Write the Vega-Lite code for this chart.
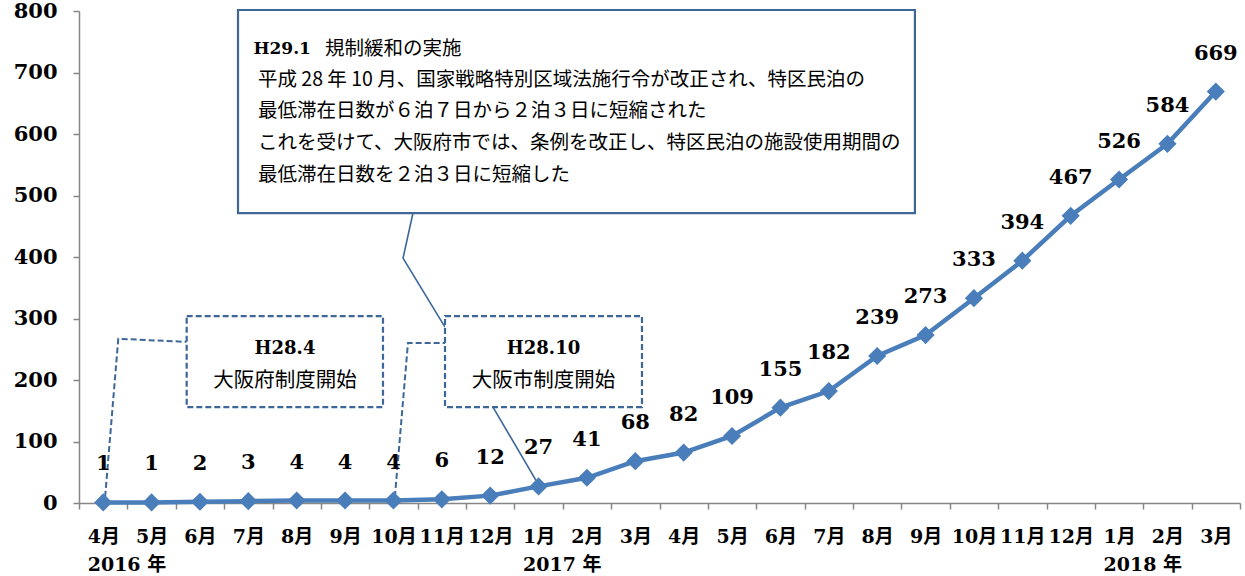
{
  "$schema": "https://vega.github.io/schema/vega-lite/v6.json",
  "autosize": {"type": "none"},
  "padding": {"left": 79, "top": 11, "right": 5, "bottom": 73},
  "width": 1161,
  "height": 492,
  "background": "white",
  "config": {"view": {"stroke": null}},
  "datasets": {
    "main": [
      {"ym": "2016-04", "count": 1}, {"ym": "2016-05", "count": 1}, {"ym": "2016-06", "count": 2},
      {"ym": "2016-07", "count": 3}, {"ym": "2016-08", "count": 4}, {"ym": "2016-09", "count": 4},
      {"ym": "2016-10", "count": 4}, {"ym": "2016-11", "count": 6}, {"ym": "2016-12", "count": 12},
      {"ym": "2017-01", "count": 27}, {"ym": "2017-02", "count": 41}, {"ym": "2017-03", "count": 68},
      {"ym": "2017-04", "count": 82}, {"ym": "2017-05", "count": 109}, {"ym": "2017-06", "count": 155},
      {"ym": "2017-07", "count": 182}, {"ym": "2017-08", "count": 239}, {"ym": "2017-09", "count": 273},
      {"ym": "2017-10", "count": 333}, {"ym": "2017-11", "count": 394}, {"ym": "2017-12", "count": 467},
      {"ym": "2018-01", "count": 526}, {"ym": "2018-02", "count": 584}, {"ym": "2018-03", "count": 669}
    ],
    "boxes": [
      {"name": "big", "style": "solid", "x1": 2.787, "x2": 16.78, "y1": 801.6, "y2": 471.5},
      {"name": "h284", "style": "dashed", "x1": 1.726, "x2": 5.784, "y1": 304, "y2": 156},
      {"name": "h2810", "style": "dashed", "x1": 7.066, "x2": 11.138, "y1": 304, "y2": 156}
    ],
    "leaders": [
      {"id": "L1", "style": "dashed", "ord": 1, "xi": 0.04, "yv": 10},
      {"id": "L1", "style": "dashed", "ord": 2, "xi": 0.312, "yv": 267},
      {"id": "L1", "style": "dashed", "ord": 3, "xi": 1.726, "yv": 262},
      {"id": "L2", "style": "dashed", "ord": 1, "xi": 6.03, "yv": 10},
      {"id": "L2", "style": "dashed", "ord": 2, "xi": 6.3, "yv": 260},
      {"id": "L2", "style": "dashed", "ord": 3, "xi": 7.066, "yv": 260},
      {"id": "S1", "style": "solid", "ord": 1, "xi": 6.404, "yv": 471.5},
      {"id": "S1", "style": "solid", "ord": 2, "xi": 6.198, "yv": 398},
      {"id": "S1", "style": "solid", "ord": 3, "xi": 7.066, "yv": 286},
      {"id": "S2", "style": "solid", "ord": 1, "xi": 8.058, "yv": 156},
      {"id": "S2", "style": "solid", "ord": 2, "xi": 8.968, "yv": 34}
    ],
    "texts": [
      {"kind": "bold", "t": "H29.1", "xi": 3.7, "yv": 738},
      {"kind": "bold", "t": "H28.4", "xi": 3.758, "yv": 251},
      {"kind": "bold", "t": "H28.10", "xi": 9.102, "yv": 251},
      {"kind": "jpleft", "t": "規制緩和の実施", "xi": 4.585, "yv": 738},
      {"kind": "jpleft", "t": "平成 28 年 10 月、国家戦略特別区域法施行令が改正され、特区民泊の", "xi": 3.2, "yv": 688},
      {"kind": "jpleft", "t": "最低滞在日数が６泊７日から２泊３日に短縮された", "xi": 3.2, "yv": 637},
      {"kind": "jpleft", "t": "これを受けて、大阪府市では、条例を改正し、特区民泊の施設使用期間の", "xi": 3.2, "yv": 585},
      {"kind": "jpleft", "t": "最低滞在日数を２泊３日に短縮した", "xi": 3.2, "yv": 533},
      {"kind": "jpcenter", "t": "大阪府制度開始", "xi": 3.758, "yv": 199},
      {"kind": "jpcenter", "t": "大阪市制度開始", "xi": 9.102, "yv": 199}
    ]
  },
  "resolve": {"scale": {"x": "independent"}},
  "layer": [
    {
      "data": {"name": "leaders"},
      "transform": [{"filter": "datum.style == 'dashed'"}],
      "mark": {"type": "line", "color": "#3d6799", "strokeWidth": 2, "strokeDash": [6, 3]},
      "encoding": {
        "x": {"field": "xi", "type": "quantitative", "scale": {"domain": [-0.5, 23.5], "nice": false, "zero": false}, "axis": null},
        "y": {"field": "yv", "type": "quantitative", "scale": {"domain": [0, 800], "nice": false}},
        "detail": {"field": "id"},
        "order": {"field": "ord"}
      }
    },
    {
      "data": {"name": "leaders"},
      "transform": [{"filter": "datum.style == 'solid'"}],
      "mark": {"type": "line", "color": "#3d6799", "strokeWidth": 1.6},
      "encoding": {
        "x": {"field": "xi", "type": "quantitative", "scale": {"domain": [-0.5, 23.5], "nice": false, "zero": false}, "axis": null},
        "y": {"field": "yv", "type": "quantitative", "scale": {"domain": [0, 800], "nice": false}},
        "detail": {"field": "id"},
        "order": {"field": "ord"}
      }
    },
    {
      "data": {"name": "boxes"},
      "transform": [{"filter": "datum.style == 'solid'"}],
      "mark": {"type": "rect", "fill": "white", "stroke": "#3d6799", "strokeWidth": 2.2},
      "encoding": {
        "x": {"field": "x1", "type": "quantitative", "scale": {"domain": [-0.5, 23.5], "nice": false, "zero": false}, "axis": null},
        "x2": {"field": "x2"},
        "y": {"field": "y1", "type": "quantitative", "scale": {"domain": [0, 800], "nice": false}},
        "y2": {"field": "y2"}
      }
    },
    {
      "data": {"name": "boxes"},
      "transform": [{"filter": "datum.style == 'dashed'"}],
      "mark": {"type": "rect", "fill": "white", "stroke": "#3d6799", "strokeWidth": 2.2, "strokeDash": [6, 3]},
      "encoding": {
        "x": {"field": "x1", "type": "quantitative", "scale": {"domain": [-0.5, 23.5], "nice": false, "zero": false}, "axis": null},
        "x2": {"field": "x2"},
        "y": {"field": "y1", "type": "quantitative", "scale": {"domain": [0, 800], "nice": false}},
        "y2": {"field": "y2"}
      }
    },
    {
      "data": {"name": "main"},
      "mark": {"type": "line", "color": "#4a7ebb", "strokeWidth": 4.5},
      "encoding": {
        "x": {
          "field": "ym", "type": "ordinal", "bandPosition": 0.5,
          "scale": {"type": "band", "paddingInner": 0, "paddingOuter": 0},
          "axis": {
            "title": null,
            "tickBand": "extent",
            "domainColor": "#868686",
            "domainWidth": 1.5,
            "tickColor": "#868686",
            "tickWidth": 1.5,
            "tickSize": 6,
            "labelAngle": 0,
            "labelFont": "DejaVu Serif, Noto Sans CJK JP",
            "labelFontWeight": "bold",
            "labelFontSize": 19,
            "labelColor": "black",
            "labelBaseline": "top",
            "labelPadding": 18,
            "labelLineHeight": 28,
            "labelOverlap": false,
            "labelBound": false,
            "labelAlign": {"condition": {"test": "isString(datum.value) && (datum.value == '2016-04' || substring(datum.value, 5, 7) == '01')", "value": "left"}, "value": "center"},
            "labelOffset": {"condition": {"test": "isString(datum.value) && (datum.value == '2016-04' || substring(datum.value, 5, 7) == '01')", "value": -16}, "value": 0},
            "labelExpr": "!isString(datum.value) ? '' : (datum.value == '2016-04' || substring(datum.value, 5, 7) == '01') ? [toNumber(substring(datum.value, 5, 7)) + '月', substring(datum.value, 0, 4) + ' 年'] : toNumber(substring(datum.value, 5, 7)) + '月'"
          }
        },
        "y": {
          "field": "count", "type": "quantitative",
          "scale": {"domain": [0, 800], "nice": false},
          "axis": {
            "title": null,
            "values": [0, 100, 200, 300, 400, 500, 600, 700, 800],
            "grid": false,
            "domainColor": "#868686",
            "domainWidth": 1.5,
            "tickColor": "#868686",
            "tickWidth": 1.5,
            "tickSize": 6,
            "labelFont": "DejaVu Serif",
            "labelFontWeight": "bold",
            "labelFontSize": 21,
            "labelColor": "black",
            "labelPadding": 16,
            "labelBound": false
          }
        }
      }
    },
    {
      "data": {"name": "main"},
      "mark": {"type": "point", "shape": "diamond", "filled": true, "color": "#4a7ebb", "opacity": 1, "size": 330},
      "encoding": {
        "x": {"field": "ym", "type": "ordinal", "bandPosition": 0.5, "scale": {"type": "band", "paddingInner": 0, "paddingOuter": 0}, "axis": null},
        "y": {"field": "count", "type": "quantitative", "scale": {"domain": [0, 800], "nice": false}}
      }
    },
    {
      "data": {"name": "main"},
      "mark": {"type": "text", "font": "DejaVu Serif", "fontWeight": "bold", "fontSize": 21, "color": "black", "baseline": "middle", "align": "center", "dy": -38},
      "encoding": {
        "x": {"field": "ym", "type": "ordinal", "bandPosition": 0.5, "scale": {"type": "band", "paddingInner": 0, "paddingOuter": 0}, "axis": null},
        "y": {"field": "count", "type": "quantitative", "scale": {"domain": [0, 800], "nice": false}},
        "text": {"field": "count"}
      }
    },
    {
      "data": {"name": "texts"},
      "transform": [{"filter": "datum.kind == 'bold'"}],
      "mark": {"type": "text", "font": "DejaVu Serif", "fontWeight": "bold", "fontSize": 18, "color": "black", "baseline": "middle", "align": "center"},
      "encoding": {
        "x": {"field": "xi", "type": "quantitative", "scale": {"domain": [-0.5, 23.5], "nice": false, "zero": false}, "axis": null},
        "y": {"field": "yv", "type": "quantitative", "scale": {"domain": [0, 800], "nice": false}},
        "text": {"field": "t"},
        "size": {"condition": {"test": "datum.t == 'H29.1'", "value": 17}, "value": 18}
      }
    },
    {
      "data": {"name": "texts"},
      "transform": [{"filter": "datum.kind == 'jpleft'"}],
      "mark": {"type": "text", "font": "Noto Sans CJK JP", "fontSize": 19.5, "color": "black", "baseline": "middle", "align": "left"},
      "encoding": {
        "x": {"field": "xi", "type": "quantitative", "scale": {"domain": [-0.5, 23.5], "nice": false, "zero": false}, "axis": null},
        "y": {"field": "yv", "type": "quantitative", "scale": {"domain": [0, 800], "nice": false}},
        "text": {"field": "t"}
      }
    },
    {
      "data": {"name": "texts"},
      "transform": [{"filter": "datum.kind == 'jpcenter'"}],
      "mark": {"type": "text", "font": "Noto Sans CJK JP", "fontSize": 20.5, "color": "black", "baseline": "middle", "align": "center"},
      "encoding": {
        "x": {"field": "xi", "type": "quantitative", "scale": {"domain": [-0.5, 23.5], "nice": false, "zero": false}, "axis": null},
        "y": {"field": "yv", "type": "quantitative", "scale": {"domain": [0, 800], "nice": false}},
        "text": {"field": "t"}
      }
    }
  ]
}
